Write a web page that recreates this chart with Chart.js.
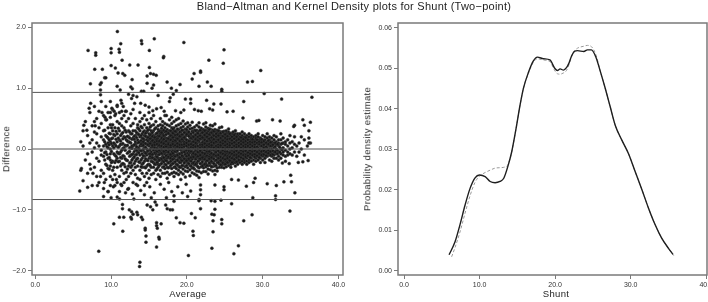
<!DOCTYPE html>
<html><head><meta charset="utf-8">
<script src="https://cdn.jsdelivr.net/npm/chart.js@4"></script>
<style>
html,body{margin:0;padding:0;background:#fff;width:708px;height:302px;overflow:hidden;font-family:"Liberation Sans",Arial,sans-serif;}
#wrap{position:relative;width:708px;height:302px;}
canvas{position:absolute;top:0;}
.t{position:absolute;color:#1e1e1e;white-space:nowrap;transform:translate(-50%,-50%);line-height:1;}
.r{transform:translate(-50%,-50%) rotate(-90deg);}
</style></head><body>
<div id="wrap">
<canvas id="ba" style="left:0;width:354px;height:302px" width="354" height="302"></canvas>
<canvas id="kd" style="left:354px;width:354px;height:302px" width="354" height="302"></canvas>
<div class="t" style="left:354px;top:6px;font-size:11px;letter-spacing:0.25px">Bland−Altman and Kernel Density plots for Shunt (Two−point)</div>
<div class="t" style="left:188px;top:294px;font-size:9.5px;letter-spacing:0.3px">Average</div>
<div class="t" style="left:556px;top:294px;font-size:9.5px;letter-spacing:0.3px">Shunt</div>
<div class="t r" style="left:6px;top:149px;font-size:9.5px;letter-spacing:0.3px">Difference</div>
<div class="t r" style="left:367px;top:149px;font-size:9.5px;letter-spacing:0.3px">Probability density estimate</div>
</div>
<script>
// ---------- Bland-Altman data ----------
const colX = [6.0,6.3,6.6,6.9,7.2,7.5,7.8,8.1,8.4,8.7,9.0,9.3,9.6,9.9,10.2,10.5,10.8,11.1,11.4,11.7,12.0,12.3,12.6,12.9,13.2,13.5,13.8,14.1,14.4,14.7,15.0,15.3,15.6,15.9,16.2,16.5,16.8,17.1,17.4,17.7,18.0,18.3,18.6,18.9,19.2,19.5,19.8,20.1,20.4,20.7,21.0,21.3,21.6,21.9,22.2,22.5,22.8,23.1,23.4,23.7,24.0,24.3,24.6,24.9,25.2,25.5,25.8,26.1,26.4,26.7,27.0,27.3,27.6,27.9,28.2,28.5,28.8,29.1,29.4,29.7,30.0,30.3,30.6,30.9,31.2,31.5,31.8,32.1,32.4,32.7,33.0,33.3,33.6,33.9,34.2,34.5,34.8,35.1,35.5,35.9,36.3];
const colDiff = [
[-.35,.12],
[.05,-.52,.3],
[-.18,.45],
[.22,-.08,-.4],
[.6,-.25,.1],
[-.05,.38,-.6,.15],
[.28,-.3,.02,.7],
[-.15,.5,-.45,.1,.25],
[.05,-.2,.62,-.55,.35],
[-.1,.2,.42,-.35,.78,-.02],
[.15,-.4,.55,-.12,.3,-.65,.05],
[-.25,.08,.48,-.5,.22,.7,-.05],
[.35,-.15,.6,-.32,.1,-.7,.18,.02],
[-.08,.25,-.45,.52,.12,-.28,.78,-.6,.4,.0,.6,-.18],
[.18,-.2,.4,-.5,.05,.65,-.35,.3],
[-.1,.22,-.42,.55,.08,-.6,.35,-.22],
[.12,-.3,.45,-.05,.7,-.55,.25,-.15],
[-.2,.3,.05,-.45,.6,-.7,.15,.42,-.08],
[.08,-.35,.5,-.15,.25,-.6,.75,-.02,.38,-.25,.62],
[-.12,.2,-.4,.55,.02,-.25,.35,-.55],
[.15,-.18,.45,-.38,.05,.62,-.5,.28],
[-.05,.3,-.28,.5,.12,-.45,.2,-.65],
[.1,-.22,.38,-.1,.58,-.4,.02,.25,-.3],
[-.15,.18,.42,-.35,.05,-.55,.3,-.08,.65],
[.08,-.2,.3,-.42,.12,.5,-.1,-.3,.22,.0],
[-.05,.15,-.28,.4,.02,-.15,.25,-.48,.1,.35,-.6],
[.12,-.1,.3,-.22,.05,.45,-.35,.2,-.02,-.5,.6],
[-.08,.18,-.25,.05,.35,-.15,.25,-.4,.1,-.02,.5,-.3],
[.02,-.12,.22,-.3,.1,.4,-.2,.15,-.05,-.45,.3,.55,-.6],
[-.1,.08,.28,-.18,.0,.35,-.28,.15,-.4,.2,-.05,.48,-.55],
[.05,-.15,.2,-.25,.1,.32,-.08,.42,-.35,.15,-.02,-.48,.25,.6],
[-.05,.12,-.2,.25,.02,-.3,.18,-.1,.38,.08,-.42,.3,-.15,.5],
[.1,-.08,.2,-.22,.0,.3,-.15,.15,-.3,.05,.4,-.4,.22,-.02,.55],
[-.02,.15,-.12,.25,-.25,.08,.35,-.18,.02,-.35,.2,.45,-.08,.12,-.5],
[.05,-.1,.18,-.2,.28,.0,-.3,.12,.38,-.15,.22,-.05,.1,-.42,.32,-.25],
[-.05,.1,-.15,.22,.02,-.25,.3,-.08,.15,-.35,.4,.05,-.18,.25,-.45,.5],
[.08,-.12,.2,-.02,.3,-.2,.12,-.3,.0,.25,-.08,.38,-.4,.15,-.15,.45],
[-.08,.05,.18,-.15,.28,-.25,.1,.0,-.32,.22,-.05,.35,.12,-.4,.42,-.18,.55],
[.02,-.1,.15,-.2,.25,.08,-.3,.32,-.05,.18,-.15,.4,-.38,.05,.12,-.48,.28],
[-.02,.12,-.12,.2,.05,-.22,.3,-.08,.15,-.3,.25,-.15,.38,.0,-.42,.1,.48],
[.05,-.08,.18,-.18,.1,.28,-.25,.0,.22,-.12,.35,-.32,.15,-.05,.42,-.4,.08,.52],
[-.05,.1,-.15,.2,.02,-.22,.3,-.1,.15,-.3,.25,.05,-.38,.35,-.02,.12,-.45,.45],
[.0,.15,-.1,.22,-.18,.08,.3,-.25,.12,-.05,.38,-.32,.18,.02,-.4,.28,-.12,.48],
[.05,-.12,.18,-.2,.1,.25,-.28,.0,.32,-.08,.15,-.35,.22,-.15,.4,.08,-.42,.5],
[-.02,.1,-.15,.2,.05,-.22,.28,-.08,.15,-.3,.35,.0,-.18,.22,-.38,.12,.42,-.5],
[.03,-.11,.16,-.19,.24,.07,-.27,.31,-.04,.13,-.33,.37,-.13,.19,.01,-.41,.46],
[-.06,.11,-.09,.21,-.01,-.21,.27,-.16,.09,.33,-.29,.17,-.03,.41,-.36,.06,-.46],
[.04,-.07,.14,-.16,.23,.01,-.23,.29,-.11,.12,-.31,.36,.08,-.19,.26,-.37,.43],
[-.03,.09,-.13,.18,.06,-.19,.24,-.06,.13,-.27,.33,-.14,.21,.0,-.34,.39,-.44],
[.01,-.09,.16,-.17,.21,.07,-.24,.29,-.04,.11,-.31,.34,-.12,.18,-.39,.05,.44],
[-.04,.07,-.11,.14,.03,-.21,.23,-.08,.31,-.26,.12,.01,-.33,.36,-.14,.19,-.41],
[.06,-.04,.13,-.14,.19,-.23,.0,.26,-.09,.16,-.27,.31,.09,-.36,.39,-.11,-.43],
[.02,.11,-.07,.17,-.16,.04,.23,-.19,.29,-.06,.13,-.31,.36,-.12,.01,-.37,.43,-.47],
[.03,-.09,.16,-.11,.21,-.01,-.17,.26,-.04,.09,-.24,.31,.07,-.29,.34,-.14,.19,-.39],
[-.01,.07,-.11,.14,.03,-.17,.23,-.07,.12,.28,-.26,.04,-.13,.32,-.31,.18,.0,-.37,.41],
[.06,-.06,.11,-.14,.19,.01,-.21,.26,-.09,.09,-.24,.31,.03,-.29,.21,-.12,.36,-.37,.43],
[.01,.09,-.07,.16,-.14,.04,.21,-.19,.24,-.04,.13,-.27,.29,.02,-.11,.34,-.33,.17,-.41],
[.03,-.08,.12,-.12,.18,-.01,-.17,.23,-.05,.1,-.22,.27,.06,-.27,.33,-.09,.14,-.34,.39],
[-.02,.07,-.1,.16,.02,-.15,.21,-.08,.13,.25,-.22,.0,-.29,.31,-.12,.18,.05,-.36,.38],
[.04,-.04,.09,-.12,.17,.01,-.19,.22,-.07,.12,-.26,.28,.03,-.28,.15,-.1,.32,-.35,.41],
[.0,.07,-.09,.14,-.13,.05,.19,-.18,.24,-.02,.11,-.22,.27,-.1,.03,.31,-.31,.15,-.36],
[.02,-.06,.12,-.11,.18,-.15,.01,.22,-.2,.08,.26,-.05,-.25,.29,.12,-.12,.16,-.3,.35],
[-.02,.08,-.07,.13,.03,-.16,.18,-.04,.22,-.21,.1,.0,-.26,.28,-.09,.15,.05,-.3,.36],
[.05,-.05,.1,-.12,.15,.01,-.18,.2,-.08,.11,-.22,.25,.02,-.25,.29,-.12,.15,-.31],
[.01,.08,-.1,.12,-.05,.18,-.15,.03,.22,-.2,.1,-.08,.26,-.24,.05,.3,-.29,.15],
[.02,-.06,.12,-.12,.16,.0,-.18,.21,-.08,.08,-.22,.25,.05,-.27,.28,-.12,.33],
[-.02,.08,-.08,.13,.02,-.15,.18,-.05,.23,-.2,.1,.0,-.25,.26,-.1,.15,-.3],
[.05,-.05,.1,-.1,.16,.0,-.15,.2,-.08,.09,-.2,.25,.02,-.24,.28,-.12],
[.0,.08,-.08,.12,-.12,.05,.18,-.18,.22,-.02,.1,-.22,.25,-.1,.3,-.28],
[.02,-.05,.1,-.1,.15,.0,-.15,.18,-.08,.08,-.2,.22,.05,-.25,.25,-.12],
[-.02,.08,-.08,.12,.02,-.12,.15,-.05,.2,-.18,.1,.0,-.22,.25,-.1],
[.05,-.05,.1,-.1,.15,.0,-.15,.18,-.08,.08,-.2,.22,.02,-.25,.28],
[.0,.08,-.08,.12,-.12,.05,.15,-.18,.2,-.02,.1,-.22,.25,-.1],
[.02,-.05,.1,-.1,.15,.0,-.15,.18,-.08,.08,-.2,.22,-.25],
[-.02,.08,-.08,.12,.02,-.12,.15,-.05,.2,-.18,.1,.25,-.22],
[.05,-.05,.1,-.1,.15,.0,-.15,.18,-.08,.08,-.2,.22],
[.0,.08,-.08,.12,-.12,.05,.15,-.18,.2,-.02,.1,-.25],
[.02,-.05,.1,-.1,.15,.0,-.15,.18,-.08,.22,-.2],
[-.02,.08,-.08,.12,.02,-.12,.15,-.05,.2,-.18,.25],
[.05,-.05,.1,-.1,.15,.0,-.15,.18,-.08,-.22],
[.0,.08,-.08,.12,-.12,.05,.15,-.18,.22,-.02],
[.02,-.05,.1,-.1,.15,.0,-.15,.2,-.22],
[-.02,.08,-.08,.12,.02,-.12,.18,-.05,.25],
[.05,-.05,.1,-.1,.15,.0,-.18,.2],
[.0,.08,-.08,.12,-.12,.05,.18,-.2],
[.02,-.05,.1,-.1,.15,-.15,.22],
[-.02,.08,-.08,.12,.0,-.15,.2],
[.05,-.05,.1,-.12,.15,-.18],
[.0,.08,-.08,.15,-.15,.25],
[.02,-.05,.1,-.1,.18],
[-.02,.08,-.12,.12,-.2],
[.05,-.05,.15,-.1],
[.0,.1,-.08,.22],
[.02,-.1,.12],
[-.05,.08,.2],
[.05,-.12],
[.1,-.05],
[.0,.2],
[-.1,.15],
[.05],
[.1]
];
// extra columns between the main ones (dense core)
const colX2 = [9.15,9.45,9.75,10.05,10.35,10.65,10.95,11.25,11.55,11.85,12.15,12.45,12.75,13.05,13.35,13.65,13.95,14.25,14.55,14.85,15.15,15.45,15.75,16.05,16.35,16.65,16.95,17.25,17.55,17.85,18.15,18.45,18.75,19.05,19.35,19.65,19.95,20.25,20.55,20.85,21.15,21.45,21.75,22.05,22.35,22.65,22.95,23.25,23.55,23.85,24.15,24.45,24.75,25.05,25.35,25.65,25.95,26.25,26.55,26.85,27.15,27.45,27.75,28.05,28.35,28.65,28.95,29.25,29.55,29.85,30.15,30.45,30.75,31.05,31.35,31.65,31.95,32.25,32.55];
const colDiff2 = [
[.12,-.18,.31,-.06],
[-.09,.2,-.27,.04],
[.07,-.14,.26,-.33,.15],
[-.04,.17,-.22,.35,.09],
[.1,-.08,.24,-.3,.02],
[-.12,.05,.29,-.19,.16],
[.03,-.21,.18,-.07,.34],
[-.05,.13,-.28,.22,.08,-.14],
[.09,-.11,.27,-.24,.01,.17],
[-.02,.19,-.16,.31,-.29,.06],
[.06,-.07,.21,-.19,.13,-.33],
[-.04,.11,-.23,.28,.02,-.12,.18],
[.05,-.09,.16,-.18,.25,-.27,.01],
[.07,-.13,.21,-.04,.16,-.24],
[-.09,.04,.19,-.17,.27,-.02],
[.11,-.06,.24,-.21,.01,.33],
[-.03,.14,-.18,.08,-.29,.22,.37],
[.06,-.11,.17,-.23,.28,-.01,.12],
[-.07,.09,.21,-.16,.03,-.31,.26],
[.13,-.03,.19,-.19,.07,.31,-.26],
[-.01,.17,-.12,.23,-.27,.09,.36,-.08],
[.04,-.09,.14,-.21,.27,-.14,.06,.21],
[-.06,.11,-.17,.19,.02,-.25,.33,.07],
[.08,-.04,.16,-.13,.26,-.22,.01,.13,-.33],
[-.02,.13,-.09,.21,-.18,.06,.29,-.27],
[.05,-.07,.18,-.16,.11,.27,-.24,.0,.34],
[-.04,.09,-.14,.22,.03,-.21,.16,-.29,.31],
[.07,-.02,.13,-.11,.24,-.19,.04,.29,-.26],
[-.05,.1,-.13,.17,.01,-.23,.26,.08,-.31],
[.03,-.09,.15,-.15,.22,.06,-.2,.3,-.27],
[-.01,.12,-.07,.19,-.17,.08,.26,-.24,.33],
[.06,-.04,.14,-.12,.23,.0,-.21,.29,-.29],
[-.03,.09,-.1,.17,.04,-.18,.24,-.26,.33],
[.02,-.08,.13,-.14,.21,.07,-.22,.28,-.3],
[-.06,.07,.16,-.11,.24,-.19,.02,.31,-.27],
[.04,-.05,.11,-.16,.19,-.23,.27,.08],
[-.02,.1,-.12,.15,.05,-.19,.24,-.27,.32],
[.07,-.03,.13,-.1,.21,-.16,.01,.28,-.24],
[-.04,.08,-.14,.18,.03,-.2,.25,-.28],
[.02,-.07,.12,.2,-.13,.06,-.23,.27,-.31],
[-.01,.1,-.09,.16,-.17,.04,.23,-.25,.3],
[.05,-.05,.14,-.12,.2,.0,-.2,.26,-.29],
[-.03,.07,-.1,.17,.02,-.16,.22,-.24,.31],
[.04,-.06,.11,-.14,.19,.07,-.21,.27,-.28],
[-.02,.09,-.08,.15,-.17,.03,.23,-.25,.3],
[.06,-.04,.13,-.11,.2,.0,-.19,.26,-.27],
[-.04,.08,-.13,.17,.04,-.16,.24,-.23,.32],
[.03,-.07,.11,-.14,.19,.06,-.2,.27,-.29],
[-.01,.1,-.09,.16,-.16,.02,.22,-.24,.29],
[.05,-.05,.12,-.11,.2,.0,-.18,.25,-.27],
[-.03,.07,-.1,.15,.03,-.15,.22,-.22,.3],
[.04,-.06,.11,-.13,.18,.06,-.19,.26,-.26],
[-.02,.09,-.08,.14,-.15,.02,.21,-.23,.28],
[.06,-.04,.12,-.1,.18,.0,-.17,.24,-.25],
[-.04,.08,-.12,.16,.03,-.15,.21,-.22],
[.03,-.06,.1,-.13,.17,.06,-.19,.25],
[-.01,.09,-.08,.14,-.15,.02,.2,-.22],
[.05,-.05,.11,-.1,.17,.0,-.17,.23],
[-.03,.07,-.1,.14,.03,-.14,.2,-.21],
[.04,-.06,.1,-.12,.16,.05,-.18],
[-.02,.08,-.08,.13,-.14,.02,.19],
[.05,-.04,.11,-.1,.16,.0,-.16],
[-.03,.07,-.1,.13,.03,-.13,.19],
[.04,-.06,.1,-.11,.15,.05],
[-.02,.08,-.08,.12,-.14,.02],
[.05,-.04,.11,-.1,.16,.0],
[-.03,.07,-.09,.12,.03,-.13],
[.04,-.05,.1,-.11,.15],
[-.01,.08,-.08,.12,-.14],
[.05,-.04,.11,-.1,.16],
[-.03,.07,-.09,.13,.02],
[.04,-.05,.1,-.11],
[-.02,.08,-.07,.14],
[.05,-.04,.11,-.1],
[-.03,.07,-.09],
[.04,-.05,.1],
[-.02,.08,-.08],
[.03,-.05],
[-.01,.09]
];
const outAvg = [10.83,14.0,14.05,15.7,19.6,6.96,7.97,7.97,10.0,10.0,11.05,11.27,11.1,15.05,16.95,16.9,11.45,7.84,8.85,10.0,10.56,12.46,13.56,15.05,10.92,11.54,11.8,14.75,15.2,15.6,15.95,9.15,9.3,12.77,14.75,17.39,7.27,8.55,8.7,10.8,12.6,12.8,15.4,15.6,17.96,18.6,19.1,8.6,8.6,11.2,14.0,14.3,24.9,24.8,22.9,20.95,20.7,21.8,21.8,22.7,23.2,21.6,24.6,24.6,28.0,28.65,29.75,30.2,36.5,32.5,27.5,20.5,20.5,22.6,23.55,24.5,21.0,21.5,21.9,23.0,23.4,25.3,26.1,27.4,29.2,29.5,31.3,32.3,35.3,36.3,34.2,34.1,35.5,36.1,36.1,36.1,
7.3,7.1,6.4,6.8,7.8,7.9,8.8,9.2,9.4,10.1,10.4,10.6,10.8,11.3,11.6,11.9,12.7,13.1,13.9,14.5,15.0,15.5,16.0,16.6,17.0,17.3,17.7,17.8,18.5,19.2,19.6,12.3,12.9,13.4,16.2,18.2,19.8,
11.5,11.5,11.67,11.1,12.4,12.7,12.9,12.6,12.7,13.4,13.5,14.15,14.0,10.35,11.54,14.5,14.5,14.75,15.2,15.5,15.8,16.0,17.2,17.4,17.8,18.1,18.3,18.3,16.0,16.0,16.6,16.1,14.6,14.6,16.0,16.3,16.35,8.37,13.8,13.75,18.6,19.1,19.6,20.2,20.6,21.1,21.8,23.3,23.6,23.7,23.45,24.6,24.6,25.9,20.8,20.85,23.45,27.5,28.6,33.6,23.3,26.8,26.2,23.2,23.7,24.5,21.6,21.6,
5.86,6.08,6.9,8.2,7.3,7.6,10.0,10.8,11.1,28.7,31.7,31.7,34.25,33.7,33.8,32.8,31.8,30.6,28.8,29.0,27.85,26.8,25.9,23.7,23.7,21.8,21.8,21.8,20.5,24.9,24.9,36.0,35.3,32.6,33.5,34.7,
8.6,9.1,9.6,10.3,10.7,11.3,11.9,12.2,12.8,13.3,13.9,14.4,15.1,15.7,16.5,17.0,17.6,18.0,18.8,19.4,19.9,20.1,17.3,15.3,13.0,9.0];
const outDiff = [1.93,1.78,1.73,1.81,1.75,1.62,1.58,1.54,1.65,1.58,1.64,1.73,1.59,1.62,1.52,1.50,1.46,1.31,1.31,1.37,1.33,1.38,1.38,1.34,1.25,1.24,1.21,1.2,1.24,1.23,1.21,1.17,1.17,1.14,1.08,1.10,1.07,1.06,1.09,1.03,1.02,0.99,1.0,1.05,1.0,0.96,1.06,0.97,0.89,0.97,0.95,0.95,1.63,1.41,1.46,1.24,1.15,1.26,1.28,1.10,1.03,1.03,0.98,0.95,1.10,1.11,1.29,0.91,0.85,0.82,0.78,0.82,0.75,0.80,0.74,0.74,0.65,0.63,0.62,0.66,0.64,0.61,0.62,0.51,0.46,0.47,0.48,0.46,0.48,0.44,0.39,0.37,0.39,0.30,0.18,0.10,
0.75,0.67,0.39,0.31,0.45,0.38,0.6,0.52,0.48,0.67,0.62,0.58,0.72,0.8,0.7,0.62,0.83,0.75,0.75,0.72,0.69,0.63,0.66,0.68,0.62,0.55,0.78,0.84,0.63,0.6,0.64,0.9,0.88,0.86,0.88,0.9,0.82,
-0.91,-0.98,-1.12,-1.12,-1.0,-1.03,-1.07,-1.12,-1.15,-1.04,-1.08,-1.16,-1.12,-1.23,-1.35,-1.30,-1.33,-0.92,-0.95,-1.0,-0.87,-0.92,-0.92,-0.98,-1.0,-1.0,-0.77,-0.86,-1.21,-1.26,-1.23,-1.3,-1.43,-1.53,-1.61,-1.45,-1.48,-1.68,-1.86,-1.93,-1.13,-1.21,-1.22,-1.75,-1.06,-1.13,-0.98,-1.07,-1.08,-0.99,-1.18,-1.16,-1.23,-0.90,-1.35,-1.42,-1.36,-1.18,-1.08,-1.02,-1.63,-1.59,-1.72,-0.85,-0.86,-0.84,-0.83,-0.85,
-0.69,-0.32,-0.63,-0.6,-0.33,-0.4,-0.8,-0.79,-0.82,-0.80,-0.77,-0.83,-0.72,-0.43,-0.54,-0.54,-0.60,-0.57,-0.55,-0.48,-0.61,-0.51,-0.50,-0.42,-0.59,-0.59,-0.67,-0.75,-0.69,-0.62,-0.67,-0.19,-0.21,-0.23,-0.24,-0.22,
-0.45,-0.55,-0.7,-0.62,-0.5,-0.58,-0.72,-0.66,-0.74,-0.58,-0.68,-0.75,-0.62,-0.72,-0.58,-0.66,-0.55,-0.7,-0.62,-0.72,-0.58,-0.78,-0.8,-0.8,-0.82,-0.78];
const limits = [0.93, 0.0, -0.83];
const baXTicks = [0,10,20,30,40];
const baYTicks = [-2,-1,0,1,2];

// ---------- Kernel density data ----------
const kdX = [5.96,6.75,7.4,8.08,8.74,9.4,9.98,10.73,11.4,12.05,12.7,13.2,13.8,14.26,14.83,15.36,15.8,16.46,17.1,17.66,18.45,19.3,19.97,20.3,20.66,21.1,21.5,21.8,22.2,22.6,22.95,23.8,24.27,24.8,25.4,25.96,26.6,27.28,27.95,28.83,29.7,30.6,31.5,32.36,33.24,34.1,35.0,35.6];
const kdSolid = [0.0040,0.0072,0.0114,0.0163,0.0204,0.0230,0.0237,0.0233,0.0221,0.0218,0.0221,0.0229,0.0262,0.0295,0.0352,0.0410,0.0451,0.0490,0.0518,0.0528,0.0524,0.0521,0.0500,0.0495,0.0499,0.0496,0.0502,0.0512,0.0532,0.0543,0.0544,0.0542,0.0546,0.0546,0.0528,0.0494,0.0453,0.0406,0.0360,0.0323,0.0290,0.0245,0.0200,0.0155,0.0114,0.0081,0.0056,0.0041];
const kdDashX = [6.3,6.75,7.4,8.08,8.74,9.4,9.98,10.73,11.4,12.05,12.7,13.2,13.8,14.26,14.83,15.36,15.8,16.46,17.1,17.66,18.45,19.3,19.97,20.3,20.66,21.1,21.5,21.8,22.2,22.6,22.95,23.8,24.27,24.8,25.4,25.96,26.6,27.28,27.95,28.83,29.7,30.6,31.5,32.36,33.24,34.1,35.0,35.7];
const kdDash = [0.0035,0.0058,0.0096,0.0143,0.0186,0.0219,0.0234,0.0243,0.0249,0.0254,0.0255,0.0256,0.0264,0.0295,0.0352,0.0410,0.0451,0.0488,0.0515,0.0524,0.0521,0.0517,0.0494,0.0487,0.0486,0.0489,0.0495,0.0508,0.0530,0.0544,0.0550,0.0555,0.0557,0.0554,0.0534,0.0494,0.0453,0.0406,0.0360,0.0323,0.0290,0.0245,0.0200,0.0155,0.0114,0.0081,0.0056,0.0038];
const kdXTicks = [0,10,20,30,40];
const kdYTicks = [0,0.01,0.02,0.03,0.04,0.05,0.06];

// ---------- build ----------
const FONT = '"Liberation Sans", Arial, sans-serif';
const fmt = (v,d) => (v<0?'\u2212':'') + Math.abs(v).toFixed(d);
const boxPlugin = {
  id:'box',
  afterDraw(chart){
    const a = chart.chartArea, c = chart.ctx;
    c.save(); c.strokeStyle = '#7a7a7a'; c.lineWidth = 1.5;
    c.strokeRect(a.left, a.top, a.right-a.left, a.bottom-a.top);
    c.restore();
  }
};
function axisCommon(ticksArr, dec){
  return {
    type:'linear',
    grid:{display:true, drawOnChartArea:false, drawTicks:true, tickLength:4, color:'#7a7a7a', lineWidth:1},
    border:{display:false},
    ticks:{font:{family:FONT,size:7}, color:'#333', padding:2, autoSkip:false, maxRotation:0, callback:(v)=>fmt(v,dec)},
    afterBuildTicks:(s)=>{ s.ticks = ticksArr.map(v=>({value:v})); },
  };
}

const baPts = [];
colX.forEach((x,i)=>colDiff[i].forEach(d=>baPts.push({x:x,y:d})));
colX2.forEach((x,i)=>colDiff2[i].forEach(d=>baPts.push({x:x,y:d})));
outAvg.forEach((x,i)=>baPts.push({x:x,y:outDiff[i]}));

const BA_XMIN=-0.44, BA_XMAX=40.6;
const limitSets = limits.map(v=>({
  type:'line', data:[{x:BA_XMIN,y:v},{x:BA_XMAX,y:v}], borderColor:'#555', borderWidth:1,
  pointRadius:0, fill:false, order:0
}));

const baX = axisCommon(baXTicks,1);
Object.assign(baX,{min:BA_XMIN,max:BA_XMAX,afterFit:(s)=>{s.height=27;s.paddingLeft=0;s.paddingRight=0;}});
const baY = axisCommon(baYTicks,1);
Object.assign(baY,{min:-2.07,max:2.07,afterFit:(s)=>{s.width=32;s.paddingTop=0;s.paddingBottom=0;}});

new Chart(document.getElementById('ba'),{
  type:'scatter',
  data:{datasets:[
    {type:'scatter', data:baPts, pointRadius:1.5, pointBackgroundColor:'#181818', pointBorderColor:'rgba(60,60,60,0.85)', pointBorderWidth:0.6, order:1},
    ...limitSets
  ]},
  options:{
    responsive:false, animation:false, events:[],
    layout:{padding:{top:23,right:11,left:0,bottom:0}},
    plugins:{legend:{display:false},tooltip:{enabled:false}},
    scales:{x:baX,y:baY}
  },
  plugins:[boxPlugin]
});

const kdXs = axisCommon(kdXTicks,1);
Object.assign(kdXs,{min:-0.8,max:40.1,afterFit:(s)=>{s.height=27;s.paddingLeft=0;s.paddingRight=0;}});
const kdYs = axisCommon(kdYTicks,2);
Object.assign(kdYs,{min:-0.00099,max:0.06123,afterFit:(s)=>{s.width=44;s.paddingTop=0;s.paddingBottom=0;}});

new Chart(document.getElementById('kd'),{
  type:'scatter',
  data:{datasets:[
    {data:kdDashX.map((x,i)=>({x:x,y:kdDash[i]})), showLine:true, borderColor:'#9a9a9a', borderWidth:1, borderDash:[3,2], pointRadius:0, cubicInterpolationMode:'monotone', order:2},
    {data:kdX.map((x,i)=>({x:x,y:kdSolid[i]})), showLine:true, borderColor:'#1e1e1e', borderWidth:1.4, pointRadius:0, cubicInterpolationMode:'monotone', order:1}
  ]},
  options:{
    responsive:false, animation:false, events:[],
    layout:{padding:{top:23,right:1,left:0,bottom:0}},
    plugins:{legend:{display:false},tooltip:{enabled:false}},
    scales:{x:kdXs,y:kdYs}
  },
  plugins:[boxPlugin]
});
</script>
</body></html>
